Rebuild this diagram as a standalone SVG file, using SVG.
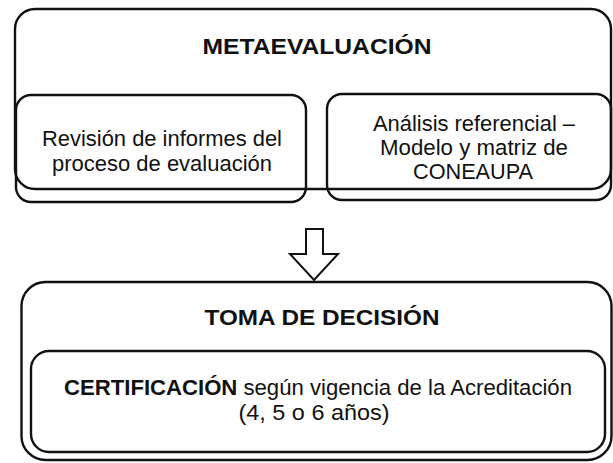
<svg xmlns="http://www.w3.org/2000/svg" width="613" height="463" viewBox="0 0 613 463">
<style>
.box{fill:none;stroke:#111;stroke-width:2.4}
.t{font-family:"Liberation Sans",Arial,sans-serif;fill:#111;text-anchor:middle;font-size:22px}
.b{font-weight:bold}
.arrow{fill:#fff;stroke:#111;stroke-width:2;stroke-linejoin:miter}
</style>
<rect width="613" height="463" fill="#fff"/>
<g id="metaevaluacion">
<rect class="box" x="15" y="9" width="596" height="180" rx="20"/>
<text class="t b" x="317" y="54" font-size="24" textLength="229" lengthAdjust="spacingAndGlyphs">METAEVALUACIÓN</text>
</g>
<g id="revision">
<rect class="box" x="16" y="95" width="290" height="107" rx="15"/>
<text class="t" x="162" y="146" textLength="240" lengthAdjust="spacingAndGlyphs">Revisión de informes del</text>
<text class="t" x="162" y="171" textLength="220" lengthAdjust="spacingAndGlyphs">proceso de evaluación</text>
</g>
<g id="analisis">
<rect class="box" x="327" y="94" width="284" height="106" rx="15"/>
<text class="t" x="474" y="131" textLength="202" lengthAdjust="spacingAndGlyphs">Análisis referencial –</text>
<text class="t" x="474" y="155" textLength="188" lengthAdjust="spacingAndGlyphs">Modelo y matriz de</text>
<text class="t" x="473" y="179" textLength="120" lengthAdjust="spacingAndGlyphs">CONEAUPA</text>
</g>
<g id="connectors">
<path class="arrow" d="M306,229 L323,229 L323,254 L338,254 L314,280 L290,254 L306,254 Z"/>
</g>
<g id="toma">
<rect class="box" x="21.5" y="282" width="590" height="178" rx="24"/>
<text class="t b" x="322" y="325" font-size="25" textLength="235" lengthAdjust="spacingAndGlyphs">TOMA DE DECISIÓN</text>
</g>
<g id="certificacion">
<rect class="box" x="31" y="351" width="574" height="101" rx="18"/>
<text class="t" x="318" y="395" textLength="508" lengthAdjust="spacingAndGlyphs"><tspan class="b">CERTIFICACIÓN</tspan> según vigencia de la Acreditación</text>
<text class="t" x="314" y="420" textLength="151" lengthAdjust="spacingAndGlyphs">(4, 5 o 6 años)</text>
</g>
</svg>
